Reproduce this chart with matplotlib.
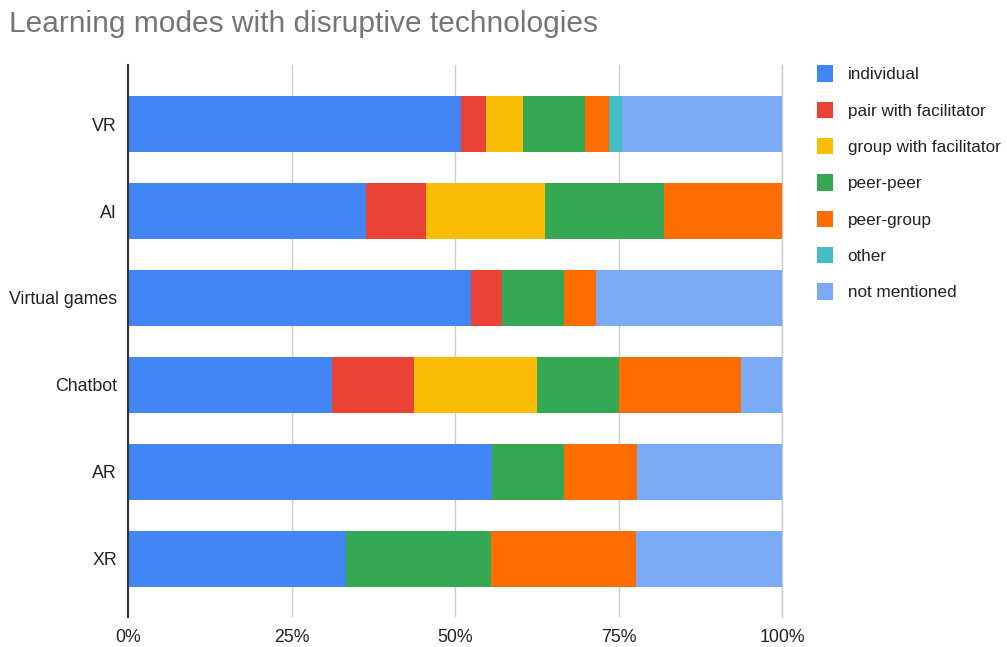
import numpy as np
import matplotlib.pyplot as plt

plt.rcParams['font.family'] = ['Liberation Sans', 'DejaVu Sans']

# Share of each learning mode per technology (%)
technologies = ["VR", "AI", "Virtual games", "Chatbot", "AR", "XR"]
individual = [50.9, 36.4, 52.4, 31.25, 55.6, 33.3]
pair_with_facilitator = [3.8, 9.1, 4.8, 12.5, 0.0, 0.0]
group_with_facilitator = [5.7, 18.2, 0.0, 18.75, 0.0, 0.0]
peer_peer = [9.4, 18.2, 9.5, 12.5, 11.1, 22.2]
peer_group = [3.8, 18.1, 4.8, 18.75, 11.1, 22.2]
other = [1.9, 0.0, 0.0, 0.0, 0.0, 0.0]
not_mentioned = [24.5, 0.0, 28.5, 6.25, 22.2, 22.3]

series = [
    ("individual", individual, "#4285F4"),
    ("pair with facilitator", pair_with_facilitator, "#EA4335"),
    ("group with facilitator", group_with_facilitator, "#FBBC04"),
    ("peer-peer", peer_peer, "#34A853"),
    ("peer-group", peer_group, "#FF6D01"),
    ("other", other, "#46BDC6"),
    ("not mentioned", not_mentioned, "#7BAAF7"),
]

fig = plt.figure(figsize=(10.07, 6.47), dpi=100)
ax = fig.add_axes([0.1271, 0.0464, 0.6495, 0.8531])

y = np.arange(len(technologies))
left = np.zeros(len(technologies))
for name, vals, color in series:
    vals = np.array(vals)
    ax.barh(y, vals, left=left, height=0.645, color=color, label=name,
            edgecolor="none", zorder=3)
    left += vals

ax.set_ylim(5.67, -0.68)
ax.set_xlim(0, 100)
ax.set_yticks(y)
ax.set_yticklabels(technologies, fontsize=12.8, color="#222222")
ax.set_xticks([0, 25, 50, 75, 100])
ax.set_xticklabels(["0%", "25%", "50%", "75%", "100%"], fontsize=12.8, color="#222222")
ax.tick_params(axis="both", length=0)
ax.tick_params(axis="y", pad=8)
ax.tick_params(axis="x", pad=9)

ax.grid(axis="x", color="#cccccc", linewidth=1, zorder=0)
ax.axvline(100, color="#cccccc", linewidth=1, zorder=0, clip_on=False)
for side in ["top", "right", "bottom"]:
    ax.spines[side].set_visible(False)
ax.spines["left"].set_color("#333333")
ax.spines["left"].set_linewidth(1.5)
ax.spines["left"].set_zorder(4)

fig.text(0.009, 0.963, "Learning modes with disruptive technologies",
         fontsize=21.5, color="#757575", ha="left", va="center")

leg = ax.legend(loc="upper left", bbox_to_anchor=(1.035, 1.021), frameon=False,
                fontsize=12.3, handlelength=0.95, handleheight=1.1,
                labelspacing=1.13, handletextpad=0.85, borderaxespad=0.3)
for t in leg.get_texts():
    t.set_color("#222222")

fig.savefig("out.png", dpi=100)
